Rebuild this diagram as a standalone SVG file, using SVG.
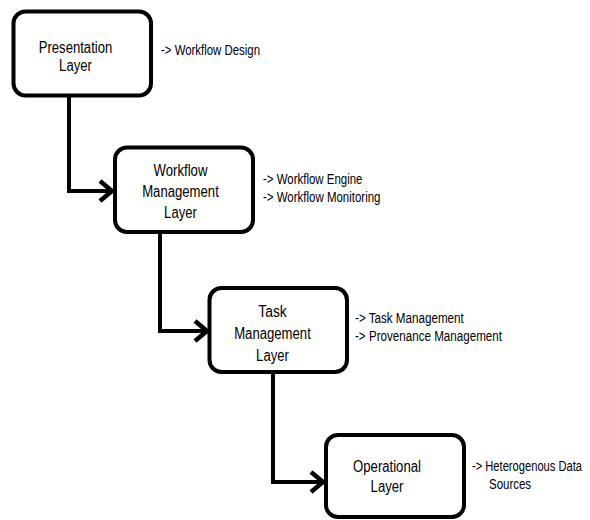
<svg xmlns="http://www.w3.org/2000/svg" width="590" height="520" viewBox="0 0 590 520">
<style>
.box{fill:#fff;stroke:#000;stroke-width:4}
.lbl{font-family:"Liberation Sans",Arial,sans-serif;font-size:16px;fill:#000;text-anchor:middle}
.side{font-family:"Liberation Sans",Arial,sans-serif;font-size:14px;fill:#000}
.conn{fill:none;stroke:#000;stroke-width:4;stroke-linejoin:miter}
</style>
<defs>
<marker id="arr" markerUnits="userSpaceOnUse" viewBox="-16 -13 20 26" refX="0" refY="0" markerWidth="20" markerHeight="26" orient="auto">
<path d="M-12,-10 L0,0 L-12,10" fill="none" stroke="#000" stroke-width="4.5" stroke-linecap="butt"/>
</marker>
</defs>
<rect width="590" height="520" fill="#fff"/>
<g id="connectors">
<path class="conn" d="M69 95.5 V191 H112" marker-end="url(#arr)"/>
<path class="conn" d="M160 232 V331 H207" marker-end="url(#arr)"/>
<path class="conn" d="M273 372 V482 H323" marker-end="url(#arr)"/>
</g>
<g id="presentation">
<rect class="box" x="13.5" y="11.5" width="137.5" height="84" rx="12"/>
<text class="lbl" x="75.5" y="53" textLength="73.6" lengthAdjust="spacingAndGlyphs">Presentation</text>
<text class="lbl" x="75.5" y="71" textLength="32.8" lengthAdjust="spacingAndGlyphs">Layer</text>
<text class="side" x="161" y="55" textLength="99" lengthAdjust="spacingAndGlyphs">-&gt; Workflow Design</text>
</g>
<g id="workflow">
<rect class="box" x="115" y="147.5" width="138" height="84.5" rx="12"/>
<text class="lbl" x="180.5" y="176" textLength="53.9" lengthAdjust="spacingAndGlyphs">Workflow</text>
<text class="lbl" x="180.5" y="197" textLength="76.6" lengthAdjust="spacingAndGlyphs">Management</text>
<text class="lbl" x="180.5" y="218" textLength="32.8" lengthAdjust="spacingAndGlyphs">Layer</text>
<text class="side" x="263" y="184" textLength="99.5" lengthAdjust="spacingAndGlyphs">-&gt; Workflow Engine</text>
<text class="side" x="263" y="202" textLength="117.5" lengthAdjust="spacingAndGlyphs">-&gt; Workflow Monitoring</text>
</g>
<g id="task">
<rect class="box" x="209.5" y="288" width="137.5" height="84" rx="12"/>
<text class="lbl" x="272.5" y="317" textLength="28.4" lengthAdjust="spacingAndGlyphs">Task</text>
<text class="lbl" x="272.5" y="339" textLength="76.6" lengthAdjust="spacingAndGlyphs">Management</text>
<text class="lbl" x="272.5" y="361" textLength="32.8" lengthAdjust="spacingAndGlyphs">Layer</text>
<text class="side" x="355" y="323" textLength="108.8" lengthAdjust="spacingAndGlyphs">-&gt; Task Management</text>
<text class="side" x="355" y="341" textLength="147" lengthAdjust="spacingAndGlyphs">-&gt; Provenance Management</text>
</g>
<g id="operational">
<rect class="box" x="326" y="435" width="138" height="82" rx="12"/>
<text class="lbl" x="387" y="472" textLength="67.8" lengthAdjust="spacingAndGlyphs">Operational</text>
<text class="lbl" x="387" y="492" textLength="32.8" lengthAdjust="spacingAndGlyphs">Layer</text>
<text class="side" x="472" y="471" textLength="110" lengthAdjust="spacingAndGlyphs">-&gt; Heterogenous Data</text>
<text class="side" x="489" y="489" textLength="42.1" lengthAdjust="spacingAndGlyphs">Sources</text>
</g>
</svg>
